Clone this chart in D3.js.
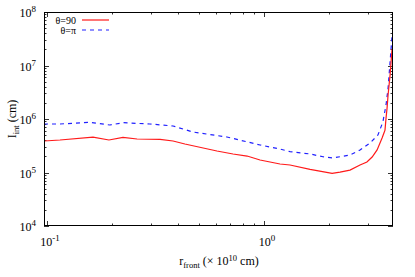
<!DOCTYPE html>
<html lang="en">
<head>
<meta charset="UTF-8">
<title>I_int vs r_front</title>
<style>
    body { margin: 0; background: #fff; }
    text { font-family: "Liberation Serif", "DejaVu Serif", serif; fill: #000; }
</style>
</head>
<body>
<div id="chart"></div>
<script src="https://cdn.jsdelivr.net/npm/d3@7"></script>
<script>
    // theta = 90
    var rRed = [0.0969, 0.1148, 0.163, 0.193, 0.224, 0.260, 0.332, 0.381, 0.432, 0.607, 0.72, 0.836, 0.959,
        1.185, 1.318, 1.63, 2.06, 2.24, 2.49, 2.77, 2.98, 3.15, 3.32, 3.50, 3.57, 3.61, 3.65, 3.69, 3.73, 3.81, 3.85, 3.89]
    var iRed = [3.88e5, 4.05e5, 4.6e5, 4.05e5, 4.55e5, 4.23e5, 4.15e5, 3.88e5, 3.41e5, 2.52e5, 2.22e5, 2.03e5, 1.71e5,
        1.44e5, 1.38e5, 1.14e5, 9.66e4, 1.02e5, 1.11e5, 1.38e5, 1.57e5, 1.95e5, 2.64e5, 4.4e5, 5.47e5, 6.2e5, 1.04e6, 1.6e6, 2.81e6, 6.6e6, 1.16e7, 2.03e7]
    // theta = pi
    var rBlue = [0.0969, 0.1148, 0.158, 0.195, 0.224, 0.298, 0.381, 0.471, 0.675, 0.959, 1.185, 1.318, 1.63, 1.87, 2.08,
        2.49, 2.77, 3.08, 3.35, 3.53, 3.65, 3.73, 3.81, 3.89]
    var iBlue = [8.07e5, 8.07e5, 8.67e5, 7.72e5, 8.53e5, 8.07e5, 7.4e5, 5.71e5, 4.61e5, 3.27e5, 2.75e5, 2.45e5, 2.22e5, 1.97e5, 1.87e5,
        2.12e5, 2.64e5, 3.56e5, 5.02e5, 8.8e5, 1.83e6, 3.8e6, 1.16e7, 3.56e7]
    var xTickValues = [0.1, 1]
    var xTickExps = ["-1", "0"]
    var yTickValues = [1e4, 1e5, 1e6, 1e7, 1e8]
    var yTickExps = ["4", "5", "6", "7", "8"]

    var width = 415, height = 277
    var pLeft = 44, pRight = 393, pTop = 12, pBottom = 226

    var svg = d3.select("#chart").append("svg")
        .attr("width", width)
        .attr("height", height)

    var x = d3.scaleLog().domain([0.0969, 3.93]).range([pLeft, pRight])
    var y = d3.scaleLog().domain([1e4, 1e8]).range([pBottom, pTop])

    // minor tick values
    var xMinor = [], yMinor = []
    for (var e = -2; e <= 0; e++) {
        for (var m = 2; m <= 9; m++) {
            var v = m * Math.pow(10, e)
            if (v > x.domain()[0] && v < x.domain()[1]) xMinor.push(v)
        }
    }
    for (var e2 = 4; e2 < 8; e2++) {
        for (var m2 = 2; m2 <= 9; m2++) yMinor.push(m2 * Math.pow(10, e2))
    }

    var ticks = svg.append("g").attr("stroke", "#000").attr("stroke-width", 0.8)

    xTickValues.concat(xMinor).forEach(function (v) {
        var len = xTickValues.indexOf(v) >= 0 ? 5 : 2.5
        var px = Math.round(x(v)) + 0.5
        ticks.append("line").attr("x1", px).attr("x2", px).attr("y1", pBottom).attr("y2", pBottom - len)
        ticks.append("line").attr("x1", px).attr("x2", px).attr("y1", pTop).attr("y2", pTop + len)
    })
    yTickValues.concat(yMinor).forEach(function (v) {
        var len = yTickValues.indexOf(v) >= 0 ? 5 : 2.5
        var py = Math.round(y(v)) + 0.5
        ticks.append("line").attr("y1", py).attr("y2", py).attr("x1", pLeft).attr("x2", pLeft + len)
        ticks.append("line").attr("y1", py).attr("y2", py).attr("x1", pRight).attr("x2", pRight - len)
    })

    // tick labels
    yTickValues.forEach(function (v, i) {
        var t = svg.append("text")
            .attr("x", 36).attr("y", y(v) + 5)
            .attr("text-anchor", "end")
            .style("font-size", "12px")
        t.append("tspan").text("10")
        t.append("tspan").attr("dy", -5).style("font-size", "9px").text(yTickExps[i])
    })
    xTickValues.forEach(function (v, i) {
        var t = svg.append("text")
            .attr("x", x(v) + 3).attr("y", 246)
            .attr("text-anchor", "middle")
            .style("font-size", "12px")
        t.append("tspan").text("10")
        t.append("tspan").attr("dy", -5).style("font-size", "9px").text(xTickExps[i])
    })

    // axis titles
    var xl = svg.append("text")
        .attr("x", 219).attr("y", 265)
        .attr("text-anchor", "middle")
        .style("font-size", "12px")
    xl.append("tspan").text("r")
    xl.append("tspan").attr("dy", 3).style("font-size", "8.5px").text("front")
    xl.append("tspan").attr("dy", -3).text(" (\u00d7 10")
    xl.append("tspan").attr("dy", -4.5).style("font-size", "8.5px").text("10")
    xl.append("tspan").attr("dy", 4.5).text(" cm)")

    var yl = svg.append("text")
        .attr("transform", "translate(16,119) rotate(-90)")
        .attr("text-anchor", "middle")
        .style("font-size", "12px")
    yl.append("tspan").text("I")
    yl.append("tspan").attr("dy", 3).style("font-size", "8.5px").text("int")
    yl.append("tspan").attr("dy", -3).text(" (cm)")

    // lines
    var line = d3.line()
        .x(function (d) { return x(d[0]) })
        .y(function (d) { return y(d[1]) })

    svg.append("clipPath").attr("id", "clip").append("rect")
        .attr("x", pLeft).attr("y", pTop).attr("width", pRight - pLeft).attr("height", pBottom - pTop)
    var lines = svg.append("g").attr("clip-path", "url(#clip)")

    lines.append("path")
        .datum(d3.zip(rBlue, iBlue))
        .attr("d", line)
        .attr("fill", "none")
        .attr("stroke", "#2020ff")
        .attr("stroke-width", 1.2)
        .attr("stroke-dasharray", "4,4")

    lines.append("path")
        .datum(d3.zip(rRed, iRed))
        .attr("d", line)
        .attr("fill", "none")
        .attr("stroke", "#ff1a1a")
        .attr("stroke-width", 1.2)

    // frame
    svg.append("rect")
        .attr("x", pLeft + 0.5).attr("y", pTop + 0.5)
        .attr("width", pRight - pLeft - 1).attr("height", pBottom - pTop - 1)
        .attr("fill", "none").attr("stroke", "#000").attr("stroke-width", 1)

    // legend
    var legend = [["\u03b8=90", "#ff1a1a", null], ["\u03b8=\u03c0", "#2020ff", "4,4"]]
    legend.forEach(function (d, i) {
        var ly = 20 + i * 10
        svg.append("text")
            .attr("x", 76).attr("y", ly + 3.5)
            .attr("text-anchor", "end")
            .style("font-size", "10px")
            .text(d[0])
        svg.append("line")
            .attr("x1", 82).attr("x2", 109).attr("y1", ly).attr("y2", ly)
            .attr("stroke", d[1]).attr("stroke-width", 1.2)
            .attr("stroke-dasharray", d[2])
    })
</script>
</body>
</html>
